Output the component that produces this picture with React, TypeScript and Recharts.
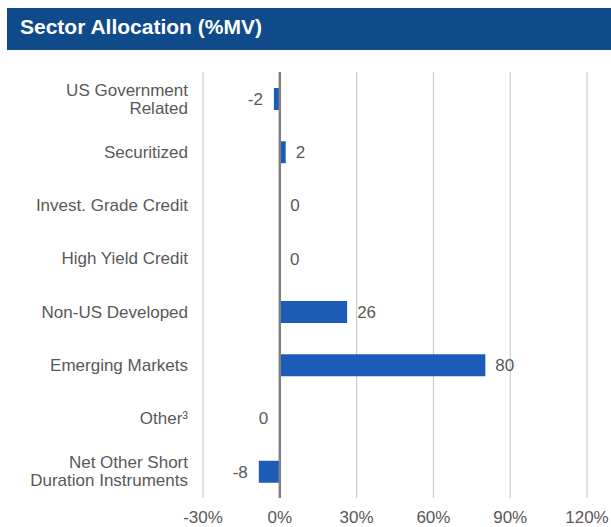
import { BarChart, Bar, XAxis, YAxis, CartesianGrid, ReferenceLine, LabelList } from 'recharts';

const sectors = [
  'US Government\nRelated',
  'Securitized',
  'Invest. Grade Credit',
  'High Yield Credit',
  'Non-US Developed',
  'Emerging Markets',
  'Other³',
  'Net Other Short\nDuration Instruments',
];
// %MV; labels are rounded
const allocation = [-2.3, 2.3, 0.2, 0.1, 26.3, 80.3, -0.2, -8.2];
const xTicks = [-30, 0, 30, 60, 90, 120];

const FONT = '"Liberation Sans", Arial, sans-serif';
const TEXT = '#595959';
const BLUE = '#1c5cb8';

const data = sectors.map((name, i) => ({ name, value: allocation[i] }));

function SectorTick({ x, y, payload }: any) {
  const lines = String(payload.value).split('\n');
  const lh = 18;
  return (
    <g>
      {lines.map((line, i) => (
        <text
          key={i}
          x={x}
          y={y - ((lines.length - 1) * lh) / 2 + i * lh}
          dy="0.35em"
          textAnchor="end"
          fill={TEXT}
          fontSize={17}
          fontFamily={FONT}
        >
          {line}
        </text>
      ))}
    </g>
  );
}

function ValueLabel({ x, y, width, height, value }: any) {
  const v = Number(value);
  const left = Math.min(x, x + width);
  const right = Math.max(x, x + width);
  const neg = v < 0 || Object.is(v, -0);
  return (
    <text
      x={neg ? left - 11 : right + 10}
      y={y + height / 2}
      dy="0.35em"
      textAnchor={neg ? 'end' : 'start'}
      fill={TEXT}
      fontSize={17}
      fontFamily={FONT}
    >
      {String(Math.round(v))}
    </text>
  );
}

export default function App() {
  return (
    <div style={{ position: 'fixed', left: 0, top: 0, width: 611, height: 527, overflow: 'hidden', background: '#fff' }}>
      <div
        style={{
          position: 'absolute',
          left: 7,
          top: 8,
          width: 604,
          height: 42,
          background: '#0f4a8a',
          color: '#fff',
          fontFamily: FONT,
          fontWeight: 'bold',
          fontSize: 21,
          lineHeight: '38px',
          paddingLeft: 13,
          boxSizing: 'border-box',
        }}
      >
        Sector Allocation (%MV)
      </div>
      <div style={{ position: 'absolute', left: 0, top: 60 }}>
        <BarChart
          width={611}
          height={480}
          data={data}
          layout="vertical"
          margin={{ top: 12, right: 24, bottom: 12, left: 0 }}
        >
          <CartesianGrid horizontal={false} stroke="#c4c4c4" />
          <XAxis
            type="number"
            domain={[-30, 120]}
            ticks={xTicks}
            tickFormatter={v => `${v}%`}
            axisLine={false}
            tickLine={false}
            tickSize={0}
            tickMargin={13}
            height={30}
            tick={{ fill: TEXT, fontSize: 17, fontFamily: FONT }}
            interval={0}
          />
          <YAxis
            type="category"
            dataKey="name"
            width={203}
            axisLine={false}
            tickLine={false}
            tickSize={0}
            tickMargin={15}
            tick={<SectorTick />}
            interval={0}
          />
          <Bar dataKey="value" fill={BLUE} barSize={22} isAnimationActive={false}>
            <LabelList dataKey="value" content={<ValueLabel />} />
          </Bar>
          <ReferenceLine x={0} stroke="#808080" strokeWidth={2.5} />
        </BarChart>
      </div>
    </div>
  );
}
